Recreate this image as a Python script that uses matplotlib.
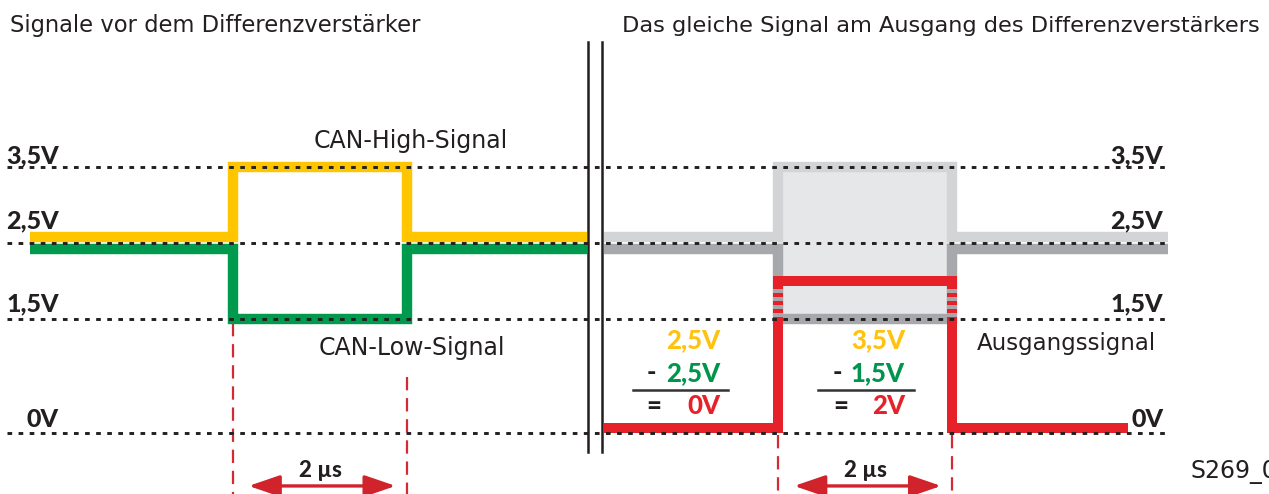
import matplotlib.pyplot as plt
import numpy as np

plt.rcParams['font.family'] = ['DejaVu Sans']

# Zeit in µs, Spannung in V
bit_t = [-2.33, 0, 0, 2, 2, 4.07]            # links: vor dem Differenzverstaerker
can_high = [2.5, 2.5, 3.5, 3.5, 2.5, 2.5]
can_low = [2.5, 2.5, 1.5, 1.5, 2.5, 2.5]

right_t = [-2.01, 0, 0, 2, 2, 4.48]          # rechts: relativ zum Bitbeginn
out_t = [-2.01, 0, 0, 2, 2, 4.02]
out_v = [0, 0, 2, 2, 0, 0]                   # Ausgangssignal = High - Low

levels = [3.5, 2.5, 1.5, 0]
level_labels = ['3,5V', '2,5V', '1,5V', '0V']

eq_left = ['2,5V', '2,5V', '0V']             # 2,5V - 2,5V = 0V
eq_right = ['3,5V', '1,5V', '2V']            # 3,5V - 1,5V = 2V
bit_label = '2 µs'

GELB = '#FFC600'
GRUEN = '#009A4E'
ROT = '#E62129'
HELLGRAU = '#D3D4D6'
DUNKELGRAU = '#A7A8AB'
FLAECHE = '#E6E7E9'
SCHWARZ = '#231F20'
BOLD = ['Lato', 'DejaVu Sans']

shift = 6.27      # Bitbeginn der rechten Seite
fig = plt.figure(figsize=(12.69, 4.94), dpi=100)
ax = fig.add_axes([0, 0, 1, 1])
ax.set_xlim(-2.678, 11.908)
ax.set_ylim(-0.803, 5.697)
ax.axis('off')

line_kw = dict(lw=7.5, solid_joinstyle='miter', solid_capstyle='butt')
off = 0.075   # High liegt auf, Low unter der 2,5V-Linie
hi = np.array(can_high)
lo = np.array(can_low)
hi_d = np.where(hi == 2.5, hi + off, hi)
lo_d = np.where(lo == 2.5, lo - off, lo)

### linke Seite
ax.plot(bit_t, hi_d, color=GELB, zorder=3, **line_kw)
ax.plot(bit_t, lo_d, color=GRUEN, zorder=3, **line_kw)

### rechte Seite
tr = np.array(right_t) + shift
ax.fill_between([shift, shift + 2], 1.5, 3.5, color=FLAECHE, lw=0, zorder=1)
ax.plot(tr, lo_d, color=DUNKELGRAU, zorder=2, **line_kw)
ax.plot(tr, hi_d, color=HELLGRAU, zorder=2, **line_kw)

ov = np.array(out_v, dtype=float)
ov_d = np.where(ov == 0, ov + 0.07, ov)
ax.plot(np.array(out_t) + shift, ov_d, color=ROT, zorder=4,
        lw=7.2, solid_joinstyle='miter', solid_capstyle='butt')
# Streifen wo rot und grau sich ueberlagern
for t in [shift, shift + 2]:
    ax.plot([t, t], [1.53, 1.92], color=DUNKELGRAU, lw=7.2,
            linestyle=(0, (0.4, 0.4)), dash_capstyle='butt', zorder=5)

### gestrichelte Pegellinien
for lv in levels:
    ax.plot([-2.60, 10.75], [lv, lv], color=SCHWARZ, lw=2.1,
            linestyle=(0, (1.6, 2.2)), zorder=6)

# Trennlinie
for xv in [4.08, 4.24]:
    ax.plot([xv, xv], [-0.25, 5.14], color=SCHWARZ, lw=1.8, zorder=6)

# rote Hilfslinien fuer die Bitzeit
red_dash = dict(color='#D42A33', lw=1.6, linestyle=(0, (6, 3.5)), zorder=1)
ax.plot([0, 0], [1.45, -0.9], **red_dash)
ax.plot([2, 2], [0.74, -0.9], **red_dash)
ax.plot([shift, shift], [-0.03, -0.9], **red_dash)
ax.plot([shift + 2, shift + 2], [-0.03, -0.9], **red_dash)

for x0 in [0, shift]:
    ax.annotate('', xy=(x0 + 1.87, -0.697), xytext=(x0 + 0.18, -0.697),
                arrowprops=dict(arrowstyle='<|-|>,head_length=1.9,head_width=0.65',
                                color='#D0232B', lw=2.4, shrinkA=0, shrinkB=0))
    ax.text(x0 + 1.0, -0.579, bit_label, ha='center', va='baseline',
            fontsize=16, fontweight='black', family=BOLD, color=SCHWARZ)

### Beschriftung der Pegel
lab_off = {3.5: 0.053, 2.5: 0.197, 1.5: 0.105, 0: 0.079}
for lv, lab in zip(levels, level_labels):
    for xv in [-2.0, 10.69]:
        ax.text(xv, lv + lab_off[lv], lab, ha='right', va='baseline',
                fontsize=18, fontweight='black', family=BOLD, color=SCHWARZ)

### Rechnung
def rechnung(x_r, x_minus, x_gleich, bar, werte):
    tk = dict(ha='right', va='baseline', fontsize=18.5, fontweight='black', family=BOLD)
    ax.text(x_r, 1.118, werte[0], color='#FFC20E', **tk)
    ax.text(x_r, 0.684, werte[1], color='#00954C', **tk)
    ax.text(x_r, 0.25, werte[2], color=ROT, **tk)
    tk['ha'] = 'center'
    ax.text(x_minus, 0.684, '-', color=SCHWARZ, **tk)
    ax.text(x_gleich, 0.25, '=', color=SCHWARZ, **tk)
    ax.plot(bar, [0.566, 0.566], color='#333333', lw=1.8)

rechnung(5.60, 4.805, 4.84, [4.60, 5.69], eq_left)
rechnung(7.724, 6.943, 6.99, [6.724, 7.83], eq_right)

### Texte
ax.text(2.046, 3.75, 'CAN-High-Signal', ha='center', va='baseline', fontsize=17, color=SCHWARZ)
ax.text(2.06, 1.026, 'CAN-Low-Signal', ha='center', va='baseline', fontsize=17, color=SCHWARZ)
ax.text(9.575, 1.09, 'Ausgangssignal', ha='center', va='baseline', fontsize=16.5, color=SCHWARZ)

fig.text(10 / 1269, 1 - 32 / 494, 'Signale vor dem Differenzverstärker',
         va='baseline', fontsize=16.3, color=SCHWARZ)
fig.text(622 / 1269, 1 - 32 / 494, 'Das gleiche Signal am Ausgang des Differenzverstärkers',
         va='baseline', fontsize=16.2, color=SCHWARZ)
fig.text(1190 / 1269, 1 - 478 / 494, 'S269_006', va='baseline', fontsize=17, color=SCHWARZ)

fig.savefig('out.png', dpi=100)
